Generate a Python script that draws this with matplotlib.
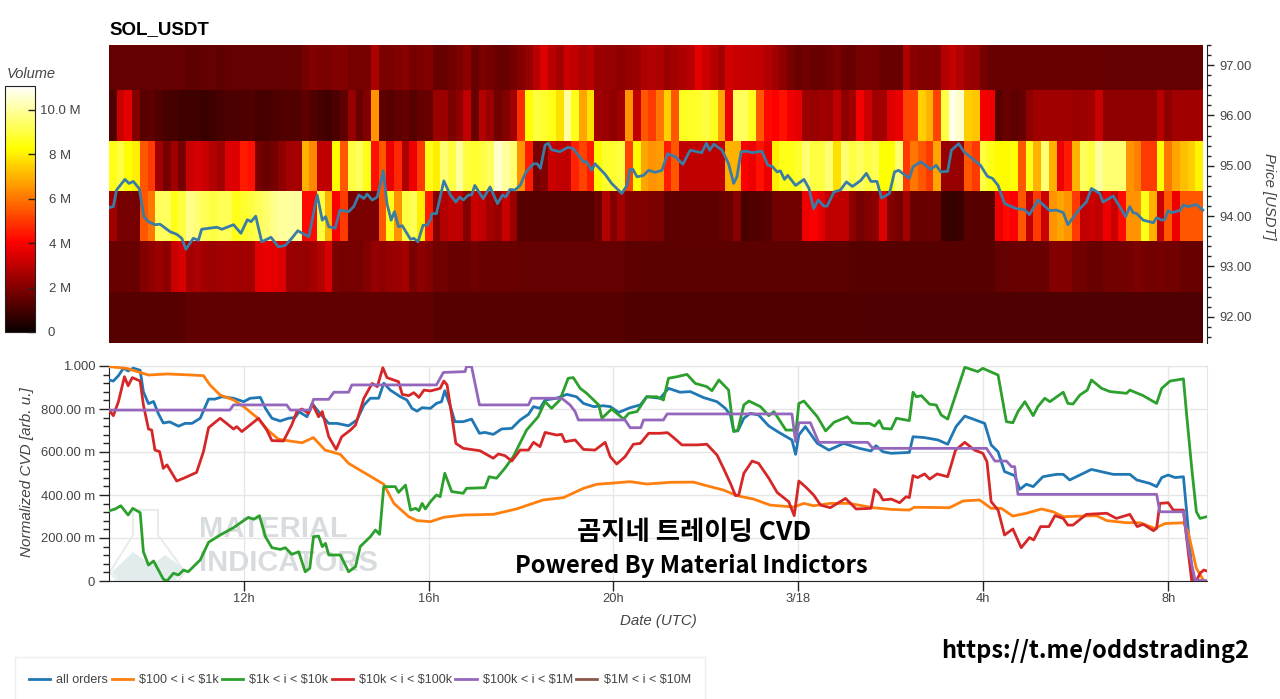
import numpy as np
import matplotlib
matplotlib.use('Agg')
import matplotlib.pyplot as plt
from matplotlib.patches import Polygon, Rectangle
from matplotlib.transforms import ScaledTranslation

W, H = 1280, 699
plt.rcParams['font.family'] = ['Liberation Sans', 'DejaVu Sans']

# Volume in millions, one value per 10 minute column, top price level first
vol_97 = [1.5,1.5,1.5,1.5,1.5,1.5,1.5,1.5,1.5,1.5,1.4,1.4,1.5,1.5,1.4,1.5,1.5,1.5,1.5,1.5,1.5,1.5,1.5,1.5,1.5,
          1.8,2.0,1.9,1.9,2.0,2.0,1.8,1.8,1.8,2.7,1.9,1.9,2.0,2.1,1.8,1.9,2.0,
          1.6,1.6,1.7,1.9,2.2,1.6,1.9,1.8,1.6,1.6,1.8,2.0,2.3,2.9,3.5,2.9,2.6,3.2,3.0,2.7,2.9,
          2.4,2.3,2.3,2.2,2.3,2.4,2.7,2.8,2.7,2.4,2.6,2.7,2.9,3.6,3.2,2.9,2.6,3.3,3.2,3.1,3.1,3.0,2.8,
          2.5,2.2,1.8,1.6,1.7,1.6,1.6,1.7,1.9,1.6,1.6,1.8,1.8,1.8,1.6,1.6,1.6,2.7,2.1,2.0,2.0,2.0,
          2.8,3.1,2.8,2.4,2.3,1.8,1.6,1.6,1.6,1.6,1.6,1.6,1.6,1.6,1.6,1.6,1.6,1.6,1.6,1.6,1.6,
          1.5,1.5,1.5,1.5,1.5,1.5,1.5,1.5,1.5,1.5,1.5,1.5,1.5]
vol_96 = [1.2,3.2,3.6,2.0,1.3,1.4,1.2,1.0,1.0,.9,.9,.9,.8,.9,1.0,1.1,1.1,1.1,1.2,1.0,1.0,1.1,1.2,1.2,1.2,
          1.4,1.2,1.0,.9,1.1,1.4,2.3,1.6,2.0,6.5,1.4,1.3,1.4,1.5,1.3,1.5,1.6,
          2.4,2.4,1.9,2.2,3.0,1.6,2.8,2.4,1.7,2.0,2.5,4.8,8.3,9,8.8,8.5,7.8,10,8.5,6.8,7.8,
          2.5,2.4,2.2,2.5,6.5,3,5.5,5,6,7.5,5.5,8.6,8.7,8.8,9,8.6,6.8,3.8,9.2,9.3,8.6,
          5.5,4.2,4.0,4.3,3.8,3.6,2.4,2.3,2.5,2.4,3,2.2,2.5,3.9,3.2,2.5,2.6,3.5,3.7,
          5.2,5.2,7.5,7,5.2,9,10.8,10.5,7.5,7.3,3.9,3.8,1.3,1.6,1.4,1.5,
          2.2,2.5,2.5,2.5,2.5,2.5,2.4,2.4,2.5,3.2,2.2,2.2,2.2,2.2,2.2,2.2,2.2,2.9,2.2,2.5,2.5,2.5,2.5]
vol_95 = [8.5,9,8.3,8,5.5,5,2.5,1.8,2.5,1.8,3.2,3.4,3.2,2.8,2.5,3.5,3.5,4.5,4.3,1.8,
          1.6,1.8,2.2,2.6,2.6,7,6.3,3,3,8.2,5.5,9,9.3,8.5,4.3,5.5,3.7,4.7,2.7,3.8,5,8.5,
          8,9.5,9,10,9,8.8,9,9.3,10.5,10,9.5,6.5,4.5,1.8,2,3.2,3,3,4.6,5.2,4.5,
          8.2,8.8,8.8,9,5.2,8.2,6.8,6.5,6.6,4.5,5.5,3,3,3,3,3,3,7,7,4,3.8,4.3,3.8,
          8,8.5,8.5,8.8,9.5,9,9,9.5,7.8,9.5,9,9.3,9,9.2,8.3,8.3,9.5,
          5,6,5.5,5,6.8,2.3,2.3,2.3,5.5,5,9,8.5,8.2,8.2,8.3,
          5.5,8.5,7,9.5,7,3.8,4.5,7,9.3,9,10,9.5,9.5,9.5,6.5,6.2,5,5,8.3,6,6.8,7.2,7.5,8.1]
vol_94 = [2.5,1.8,1.8,1.8,5.5,6,9.3,9.3,8.5,9.0,9.8,9.5,9.2,9.0,9.2,9.2,8.5,8.8,9.0,9.2,9.5,9.8,10,10,10,
          4.2,4.2,9,7,4,5,1.9,1.9,1.9,1.9,5.5,8.5,6.5,9,9.2,8,4.5,
          2,2.8,3,3,2,3.2,3,2.6,2.3,3.2,2.4,1.3,1.3,1.3,1.3,1.3,1.3,1.3,1.3,1.3,1.3,
          1.6,2.8,2,2.6,2,2,2,1.9,1.9,1.4,1.4,1.4,1.4,1.4,1.4,1.4,1.5,1.6,2.1,
          1.0,1.2,1.2,1.3,1.7,1.7,1.7,1.7,3.8,4,3.6,3,3,3,2.2,1.8,2,2.2,3.5,2,1.8,2.5,
          1.6,1.6,1.6,1.6,.8,.7,.8,1.3,1.3,1.3,1.3,3.8,4.2,4,
          5.5,3,5,3.2,6.5,6.8,6.5,5,3,3.2,3,3.8,3.2,4.2,6.5,6.5,8.5,7,3.2,5.5,3.8,5.5,5.5,5.5]
vol_93 = [1.6,1.6,1.6,1.6,2,2.2,2.4,2.2,3.2,3.4,2.6,2.7,2.5,2.4,2.5,2.6,2.5,2.5,2.5,
          3.6,3.7,3.6,3.5,2.4,2.3,2.3,2.5,2.8,3.4,1.9,1.8,1.8,1.8,2,2.3,2.2,2.3,2.4,2.6,1.9,2.2,2,
          1.7,1.7,1.6,1.6,1.6,1.7,1.6,1.6,1.6,1.6,1.6,1.5,1.5,1.5,1.5,1.5,1.5,1.5,1.5,1.5,1.5,1.5,1.5,1.5,1.5,
          1.35,1.35,1.35,1.35,1.35,1.35,1.35,1.35,1.35,1.35,1.35,1.35,1.35,1.35,1.35,1.35,1.35,1.35,1.35,1.35,1.35,1.35,1.35,1.35,1.35,1.35,1.35,1.35,1.35,
          1.3,1.3,1.3,1.3,1.3,1.3,1.3,1.3,1.3,1.3,1.3,1.3,1.3,1.3,1.3,1.3,1.3,1.3,1.3,
          1.5,1.5,1.6,1.6,1.6,1.6,1.6,2,2,2,1.7,1.7,1.6,1.6,1.7,1.7,1.7,1.8,1.9,1.8,1.7,1.8,1.7,1.7,1.6,1.6,1.6]
vol_92 = [1.3,1.3,1.3,1.3,1.3,1.3,1.3,1.3,1.3,1.3,
          1.45,1.45,1.45,1.45,1.45,1.45,1.45,1.45,1.45,1.45,1.45,1.45,1.45,1.45,1.45,1.45,1.45,1.45,1.45,1.45,1.45,
          1.45,1.45,1.45,1.45,1.45,1.45,1.45,1.45,1.45,1.45,1.45,
          1.3,1.3,1.3,1.3,1.3,1.3,1.3,1.3,1.3,1.3,1.3,1.3,1.3,1.3,1.3,1.3,1.3,1.3,1.3,1.3,1.3,1.3,1.3,1.3,1.3,
          1.2,1.2,1.2,1.2,1.2,1.2,1.2,1.2,1.2,1.2,1.2,1.2,1.2,1.2,1.2,1.2,1.2,1.2,1.2,1.2,1.2,1.2,1.2,1.2,1.2,1.2,1.2,1.2,1.2,1.2,1.2,
          1.15,1.15,1.15,1.15,1.15,1.15,1.15,1.15,1.15,1.15,1.15,1.15,1.15,1.15,1.15,1.15,1.15,1.15,1.15,1.15,1.15,1.15,
          1.15,1.15,1.15,1.15,1.15,1.15,1.15,1.15,1.15,1.15,1.15,1.15,1.15,1.15,1.15,1.15,1.15,1.15,1.15,1.15,1.15,1.15]
price_edges = [97.4, 96.5, 95.5, 94.5, 93.5, 92.5, 91.48]

# Hours since 3/17 00:00
price_h = [9.086,9.18,9.25,9.43,9.52,9.61,9.74,9.84,9.94,10.08,10.19,10.41,10.55,10.66,10.75,10.91,11.02,11.09,11.42,11.53,11.78,11.94,12.08,12.16,12.26,12.39,12.59,12.75,12.9,13.04,13.17,13.41,13.59,13.7,13.77,13.84,13.98,14.08,14.27,14.38,14.49,14.6,14.67,14.78,14.89,15.02,15.1,15.19,15.26,15.35,15.43,15.61,15.68,15.77,15.88,15.97,16.04,
           16.07,16.17,16.33,16.47,16.59,16.67,16.75,16.86,16.93,17,17.18,17.33,17.49,17.6,17.67,17.76,17.87,17.98,18.11,18.27,18.35,18.42,18.52,18.59,18.66,18.84,19.02,19.13,19.35,19.42,19.53,19.6,19.82,19.96,20.18,20.29,20.36,20.42,20.51,20.65,20.76,20.9,21.05,21.17,21.34,21.5,21.66,21.91,22.01,22.08,22.17,22.35,22.49,22.6,22.67,22.76,22.89,23,23.21,23.34,23.43,23.54,23.61,23.7,23.77,23.94,24.12,24.23,24.33,24.43,24.55,24.62,24.77,24.91,25.04,
           25.17,25.35,25.47,25.57,25.7,25.8,25.97,26.08,26.17,26.4,26.48,26.65,26.86,26.98,27.08,27.23,27.31,27.47,27.58,27.94,28.09,28.2,28.32,28.46,28.71,28.89,29,29.18,29.44,29.58,29.73,29.83,30.09,30.23,30.34,30.52,30.59,30.81,30.95,31.08,31.17,31.24,31.32,31.46,31.68,31.75,31.86,31.93,32,32.07,32.25,32.33,32.43,32.61,32.75]
price_v = [94.17,94.19,94.52,94.73,94.65,94.69,94.55,93.99,93.89,93.83,93.84,93.69,93.64,93.56,93.34,93.56,93.52,93.74,93.78,93.74,93.83,93.66,93.93,93.89,94,93.49,93.58,93.39,93.42,93.56,93.71,93.59,94.42,93.92,93.99,93.79,93.76,94.12,94.09,94.19,94.42,94.35,94.44,94.32,94.38,94.9,94.25,93.92,94.09,93.79,93.81,93.54,93.56,93.49,93.82,93.82,93.93,
           94.05,94.05,94.7,94.42,94.28,94.38,94.32,94.42,94.42,94.61,94.35,94.58,94.25,94.42,94.38,94.53,94.52,94.61,94.88,95.04,95.04,94.95,95.41,95.45,95.32,95.28,95.37,95.34,95.08,95.08,94.91,95.04,94.83,94.65,94.45,94.61,94.93,94.93,94.78,94.81,94.91,94.87,94.91,95.24,95.18,95.03,95.31,95.26,95.45,95.31,95.43,95.31,95.04,94.65,94.78,95.28,95.29,95.26,95.29,95.01,94.99,94.88,94.9,94.73,94.81,94.61,94.73,94.55,94.15,94.32,94.2,94.2,94.48,94.52,94.68,
           94.59,94.71,94.85,94.69,94.69,94.36,94.45,94.88,94.91,94.75,94.98,95.08,94.93,95.01,94.88,94.89,95.31,95.44,95.28,95.01,94.79,94.75,94.61,94.25,94.15,94.13,94.03,94.32,94.11,94.12,94.07,93.83,94.15,94.28,94.55,94.45,94.28,94.4,94.19,93.99,94.19,94.07,94.05,93.92,93.87,93.97,93.92,93.94,94.11,94.07,94.11,94.22,94.19,94.23,94.12]

all_h = [9.086,9.18,9.29,9.4,9.5,9.61,9.76,9.83,9.94,10.05,10.15,10.26,10.4,10.59,10.73,10.88,11.06,11.24,11.38,11.53,11.78,12,12.14,12.36,12.47,12.61,12.79,12.97,13.11,13.2,13.37,13.48,13.62,13.84,14.02,14.27,14.45,14.6,14.74,14.92,15.03,15.17,15.39,15.53,15.64,15.75,15.86,16.04,
         16.17,16.28,16.35,16.46,16.57,16.75,16.93,17.1,17.22,17.4,17.58,17.8,17.98,18.16,18.27,18.41,18.52,18.77,18.99,19.2,19.35,19.57,19.78,19.93,20.11,20.36,20.58,20.72,21.01,21.19,21.44,21.66,21.95,22.24,22.42,22.53,22.6,22.69,22.82,22.96,23.14,23.36,23.58,23.86,23.94,24.01,24.15,24.41,24.66,24.98,
         25.32,25.57,25.68,25.83,26.01,26.4,26.48,26.73,27.02,27.23,27.41,27.6,27.78,28.03,28.17,28.32,28.46,28.68,28.79,28.93,29.08,29.29,29.58,29.73,29.87,30.34,30.81,31.17,31.32,31.6,31.75,31.86,32,32.15,32.33,32.4,32.51,32.56,32.65,32.83]
all_v = [.935,.93,.955,.99,.977,.99,.98,.88,.825,.835,.78,.735,.74,.72,.733,.733,.757,.846,.846,.857,.85,.834,.85,.854,.803,.757,.744,.757,.76,.787,.764,.826,.787,.733,.733,.722,.749,.818,.85,.85,.92,.888,.857,.842,.803,.79,.806,.803,
         .826,.834,.885,.819,.741,.741,.753,.687,.691,.682,.707,.71,.749,.775,.811,.803,.842,.85,.868,.857,.826,.811,.815,.811,.784,.806,.819,.857,.85,.896,.878,.881,.853,.834,.803,.772,.698,.698,.757,.78,.772,.721,.691,.656,.589,.679,.718,.64,.609,.64,
         .617,.605,.629,.601,.594,.598,.671,.667,.656,.636,.718,.767,.753,.733,.633,.601,.509,.49,.426,.45,.439,.485,.496,.496,.47,.519,.496,.496,.47,.454,.439,.481,.493,.481,.485,.322,.059,0,0,0]

small_h = [9.086,9.47,9.94,10.34,10.88,11.13,11.27,11.49,11.78,12,12.29,12.54,12.75,13,13.26,13.51,13.76,14.09,14.27,14.67,15.03,15.25,15.57,15.75,16.04,
           16.32,16.75,17.4,17.9,18.48,18.92,19.35,19.64,20.07,20.36,20.72,21.23,21.73,22.02,22.38,22.67,23.03,23.39,23.9,24.12,24.33,24.69,25.1,
           25.61,26.01,26.4,26.51,27.27,27.56,27.92,28.17,28.39,28.64,28.93,29.26,29.51,29.73,30.45,30.67,31.1,31.39,31.71,31.93,32.33,32.43,32.61,32.76,32.83]
small_v = [.997,.989,.958,.963,.958,.955,.912,.865,.842,.811,.76,.698,.66,.651,.643,.667,.609,.589,.547,.496,.45,.361,.299,.281,.276,
           .296,.307,.31,.335,.377,.388,.431,.45,.457,.462,.451,.459,.46,.443,.423,.397,.381,.353,.344,.361,.35,.361,.361,
           .341,.333,.33,.343,.341,.372,.377,.338,.338,.302,.315,.335,.322,.299,.304,.281,.271,.271,.245,.267,.271,.229,.059,.005,0]

mid_h = [9.086,9.22,9.34,9.5,9.6,9.76,9.83,9.94,10.05,10.26,10.34,10.48,10.59,10.7,10.8,11.06,11.24,11.49,11.78,12.1,12.22,12.34,12.47,12.61,12.79,12.9,13.04,13.19,13.33,13.43,13.51,13.62,13.7,13.77,13.84,14.09,14.27,14.42,14.52,14.74,14.85,14.94,15.03,15.28,15.35,15.5,15.61,15.72,15.79,15.86,15.93,16.04,
         16.17,16.25,16.35,16.5,16.75,16.82,17.22,17.31,17.47,17.65,17.83,18.12,18.37,18.52,18.66,18.84,19.02,19.13,19.28,19.42,19.57,19.68,19.75,19.96,20.22,20.33,20.51,20.72,20.94,21.08,21.19,21.37,21.59,21.77,22.02,22.13,22.28,22.49,22.6,22.69,22.82,22.93,23.18,23.36,23.47,23.73,23.9,23.94,24.01,24.12,24.41,24.59,24.77,25.06,25.17,
         25.32,25.54,25.65,25.75,25.83,26.01,26.12,26.4,26.48,26.55,26.66,26.84,26.98,27.09,27.23,27.6,27.88,27.99,28.32,28.5,28.64,28.75,28.9,29.08,29.18,29.33,29.44,29.73,29.83,29.94,30.09,30.25,30.34,30.56,30.74,31.1,31.17,31.46,31.75,31.86,32.04,32.33,32.4,32.51,32.61,32.69,32.83]
mid_v = [.326,.335,.35,.307,.338,.318,.136,.074,.093,.009,0,.036,.028,.051,.043,.098,.18,.214,.248,.296,.287,.304,.206,.155,.147,.155,.124,.136,.043,.059,.206,.209,.16,.175,.121,.121,.043,.067,.16,.206,.237,.217,.439,.439,.412,.446,.33,.338,.327,.361,.335,.369,
         .4,.392,.501,.416,.408,.431,.434,.485,.478,.524,.578,.702,.764,.834,.803,.842,.943,.946,.896,.873,.842,.819,.757,.8,.753,.78,.788,.857,.857,.842,.943,.95,.961,.919,.904,.885,.935,.888,.695,.702,.819,.837,.811,.769,.788,.702,.702,.679,.826,.837,.764,.698,.738,.764,.736,
         .733,.733,.721,.746,.71,.707,.757,.746,.878,.857,.862,.822,.819,.772,.753,.994,.974,.989,.958,.741,.736,.788,.834,.769,.811,.85,.834,.878,.826,.823,.865,.888,.935,.896,.881,.873,.888,.862,.826,.896,.93,.94,.772,.524,.322,.291,.299]

big_h = [9.086,9.18,9.29,9.42,9.5,9.59,9.76,9.83,9.94,10.01,10.08,10.18,10.26,10.34,10.55,10.7,10.98,11.13,11.24,11.49,11.78,11.85,11.96,12.32,12.5,12.61,12.86,13.04,13.15,13.26,13.4,13.49,13.62,13.7,13.84,14,14.12,14.31,14.42,14.6,14.78,14.89,15.01,15.1,15.35,15.43,15.57,15.68,15.79,15.9,16.04,
         16.25,16.33,16.4,16.5,16.59,16.75,17.11,17.4,17.51,17.65,17.8,17.98,18.16,18.27,18.41,18.52,18.77,18.88,18.95,19.17,19.35,19.6,19.82,19.93,20.07,20.25,20.43,20.58,20.76,21.01,21.17,21.3,21.48,21.81,22.02,22.24,22.38,22.53,22.64,22.71,22.82,23,23.14,23.36,23.54,23.79,23.91,24.01,24.15,24.33,24.48,24.69,25.02,25.25,
         25.57,25.65,25.75,25.83,26.01,26.19,26.33,26.4,26.48,26.58,26.73,26.84,27,27.23,27.4,27.6,27.81,27.99,28.08,28.17,28.32,28.46,28.64,28.82,29,29.09,29.24,29.42,29.55,29.73,29.83,29.94,30.23,30.67,30.88,31.17,31.33,31.46,31.68,31.75,31.82,32,32.11,32.33,32.4,32.51,32.61,32.69,32.77,32.83]
big_v = [.795,.769,.834,.95,.908,.946,.93,.819,.707,.702,.609,.602,.524,.54,.465,.478,.505,.602,.713,.757,.707,.718,.695,.757,.702,.653,.651,.726,.788,.8,.78,.822,.764,.788,.671,.612,.671,.702,.726,.85,.919,.904,.992,.946,.927,.868,.862,.876,.854,.888,.884,
         .896,.93,.912,.772,.64,.617,.606,.571,.591,.583,.558,.609,.609,.645,.625,.691,.679,.682,.648,.656,.612,.609,.645,.578,.544,.578,.636,.64,.687,.687,.69,.667,.633,.633,.636,.586,.524,.454,.397,.4,.501,.558,.547,.478,.412,.369,.304,.465,.439,.4,.353,.341,.384,.335,
         .338,.426,.408,.377,.381,.364,.392,.388,.49,.481,.498,.474,.498,.485,.609,.645,.609,.594,.555,.369,.33,.214,.242,.155,.202,.191,.253,.253,.304,.291,.26,.26,.31,.315,.291,.31,.253,.264,.234,.245,.361,.364,.33,.33,.198,0,0,.036,.051,.047]

huge_h = [9.086,11.7,11.78,12.93,13.01,13.44,13.51,13.84,13.95,14.27,14.34,16.17,16.32,16.79,16.82,16.93,17.1,18.16,18.23,18.88,19.06,19.17,19.24,20.25,20.36,20.59,20.65,21.08,21.16,23.86,23.94,24.01,24.26,24.44,25.5,25.61,28.07,28.25,28.5,28.61,28.68,28.75,31.75,31.82,32.33,32.43,32.58,32.83]
huge_v = [.795,.795,.819,.819,.795,.795,.845,.845,.878,.878,.912,.912,.97,.974,.997,.997,.819,.819,.85,.85,.819,.788,.749,.749,.713,.713,.749,.749,.777,.777,.648,.736,.736,.645,.645,.617,.617,.558,.558,.532,.532,.403,.403,.322,.322,.16,.005,0]

tick_hours = [12, 16, 20, 24, 28, 32]
tick_names = ['12h', '16h', '20h', '3/18', '4h', '8h']
legend_names = ['all orders', r'\$100 < i < \$1k', r'\$1k < i < \$10k', r'\$10k < i < \$100k', r'\$100k < i < \$1M', r'\$1M < i < \$10M']
line_colors = ['#1f77b4', '#ff7f0e', '#2ca02c', '#d62728', '#9467bd', '#8c564b']
vol_ticks = [0, 2, 4, 6, 8, 10]
vol_names = ['0', '2 M', '4 M', '6 M', '8 M', '10.0 M']
grey = '#444444'


def box(left, top, right, bottom):
    return [left / W, 1 - bottom / H, (right - left) / W, (bottom - top) / H]


def px(x, y):
    return x / W, 1 - y / H


fig = plt.figure(figsize=(W / 100, H / 100), dpi=100)

# heatmap
ax1 = fig.add_axes(box(109, 45, 1207, 343))
t_edges = 9.086 + np.arange(143) / 6
vol = np.array([vol_97, vol_96, vol_95, vol_94, vol_93, vol_92])
mesh = ax1.pcolormesh(t_edges, price_edges, vol, cmap='hot', vmin=0, vmax=11.1, linewidth=0)
ax1.plot(price_h, price_v, color='#3a7ca5', lw=2)
ax1.set_xlim(9.086, 32.84)
ax1.set_ylim(91.48, 97.4)
ax1.set_xticks([])
for s in ['left', 'top', 'bottom']:
    ax1.spines[s].set_visible(False)
ax1.spines['right'].set_color('#222222')
ax1.yaxis.tick_right()
ax1.set_yticks([92, 93, 94, 95, 96, 97])
ax1.set_yticklabels(['92.00', '93.00', '94.00', '95.00', '96.00', '97.00'])
ax1.set_yticks(np.arange(91.6, 97.4, 0.2), minor=True)
ax1.tick_params(axis='y', which='major', length=5, width=1, color='#222222', labelcolor=grey, labelsize=9.3, pad=4)
ax1.tick_params(axis='y', which='minor', length=3, width=1, color='#222222')
fig.text(*px(109, 30), 'SOL_USDT', fontsize=13.5, fontweight='bold', ha='left', va='center', color='black')
fig.text(*px(1269, 196), 'Price [USDT]', fontsize=10.7, style='italic', rotation=270, ha='center', va='center', color=grey)

# colour bar
cax = fig.add_axes(box(5, 85.5, 35, 332))
cb = fig.colorbar(mesh, cax=cax)
cb.outline.set_edgecolor('#222222')
cb.set_ticks(vol_ticks)
cb.set_ticklabels(vol_names)
cax.tick_params(axis='y', which='major', direction='in', length=5, width=1, color='#222222', labelcolor=grey, labelsize=9.5, pad=18)
for lab in cax.get_yticklabels():
    lab.set_ha('center')
zero_lab = cax.get_yticklabels()[0]
zero_lab.set_transform(zero_lab.get_transform() + ScaledTranslation(-0.09, 0, fig.dpi_scale_trans))
fig.text(*px(31, 74), 'Volume', fontsize=10.5, style='italic', ha='center', va='center', color=grey)

# cvd lines
ax2 = fig.add_axes(box(109, 366, 1207, 581))
ax2.set_axisbelow(True)
ax2.grid(True, color='#e6e6e6', lw=1)
series = [(all_h, all_v), (small_h, small_v), (mid_h, mid_v), (big_h, big_v), (huge_h, huge_v), ([], [])]
handles = []
for (xs, ys), c, name in zip(series, line_colors, legend_names):
    h, = ax2.plot(xs, ys, color=c, lw=2, label=name, zorder=3)
    handles.append(h)
ax2.set_xlim(9.086, 32.84)
ax2.set_ylim(0, 1)
ax2.set_xticks(tick_hours)
ax2.set_xticklabels(tick_names)
ax2.set_yticks([0, 0.2, 0.4, 0.6, 0.8, 1.0])
ax2.set_yticklabels(['0', '200.00 m', '400.00 m', '600.00 m', '800.00 m', '1.000'])
ax2.set_yticks(np.arange(0, 1.001, 0.04), minor=True)
ax2.tick_params(axis='y', which='major', length=7, width=1, color='#222222', labelcolor=grey, labelsize=9.4, pad=3)
ax2.tick_params(axis='x', which='major', length=7, width=1, color='#222222', labelcolor=grey, labelsize=9.3, pad=2)
ax2.tick_params(axis='y', which='minor', length=4, width=1, color='#222222')
for s in ['top', 'right']:
    ax2.spines[s].set_color('#e6e6e6')
for s in ['left', 'bottom']:
    ax2.spines[s].set_color('#222222')
fig.text(*px(27, 472), 'Normalized CVD [arb. u.]', fontsize=11, style='italic', rotation=90, ha='center', va='center', color=grey)
fig.text(*px(658, 621), 'Date (UTC)', fontsize=10.8, style='italic', ha='center', va='center', color=grey)

# watermark
ax2.text(*px(199, 529), 'MATERIAL', transform=fig.transFigure, fontsize=21, fontweight='bold', color='#d8dcde', ha='left', va='center', zorder=1)
ax2.text(*px(199, 563), 'INDICATORS', transform=fig.transFigure, fontsize=21, fontweight='bold', color='#d8dcde', ha='left', va='center', zorder=1)
flask = [px(133, 510), px(158, 510), px(158, 535), px(185, 572), px(178, 581), px(117, 581), px(110, 572), px(133, 535)]
ax2.add_patch(Polygon(flask, closed=True, fill=False, edgecolor='#e8ecec', lw=1.5, transform=fig.transFigure, zorder=1))
hill = [px(112, 572), px(133, 552), px(152, 565), px(165, 555), px(183, 568), px(176, 580), px(118, 580)]
ax2.add_patch(Polygon(hill, closed=True, facecolor='#e3ecec', edgecolor='none', transform=fig.transFigure, zorder=1))

# overlay text
kr = ['Noto Sans CJK KR', 'DejaVu Sans']
fig.text(*px(694, 533), '곰지네 트레이딩 CVD', family=kr, fontsize=19, fontweight='bold', ha='center', va='center', color='black')
fig.text(*px(691, 566), 'Powered By Material Indictors', family=kr, fontsize=17.1, fontweight='bold', ha='center', va='center', color='black')
fig.text(*px(1095, 651), 'https://t.me/oddstrading2', family=kr, fontsize=17, fontweight='bold', ha='center', va='center', color='black')

# legend
fig.add_artist(Rectangle(px(15, 705), 690 / W, 48 / H, transform=fig.transFigure, facecolor='white', edgecolor='#eeeeee', lw=1))
fig.legend(handles=handles, ncol=6, loc='center left', bbox_to_anchor=px(29, 680), frameon=False, fontsize=9.0,
           labelcolor=grey, handlelength=1.7, handletextpad=0.5, columnspacing=0.25, borderpad=0, borderaxespad=0)

fig.savefig('out.png', dpi=100)
